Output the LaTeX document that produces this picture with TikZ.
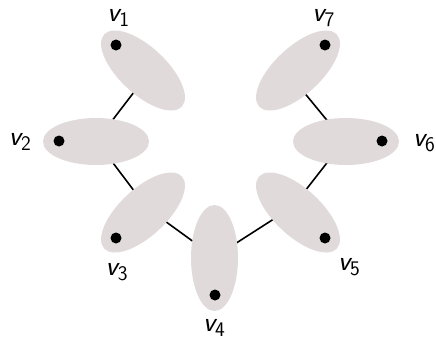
\documentclass[tikz,border=0pt]{standalone}
\usetikzlibrary{shapes.geometric}
\definecolor{ellfill}{RGB}{224,218,219}
\begin{document}
\begin{tikzpicture}[x=1pt,y=-1pt,
 ell/.style={ellipse, fill=ellfill, minimum width=106pt, minimum height=47pt, inner sep=0pt},
 vdot/.style={circle, fill=black, minimum size=11pt, inner sep=0pt},
 edge/.style={line width=1.6pt, black},
 lab/.style={anchor=base west, inner sep=0pt, font=\fontsize{28}{32}\selectfont\sffamily\slshape}]
\useasboundingbox (0,0) rectangle (436,341);
% connector anchor points
\coordinate (a1) at (147.6,74.3);
\coordinate (a2) at (96.5,141);
\coordinate (a3) at (147,208);
\coordinate (a4) at (214.5,257);
\coordinate (a5) at (292.5,207);
\coordinate (a6) at (344,141);
\coordinate (a7) at (291,76.5);
\draw[edge] (a1) -- (a2);
\draw[edge] (a2) -- (a3);
\draw[edge] (a3) -- (a4);
\draw[edge] (a4) -- (a5);
\draw[edge] (a5) -- (a6);
\draw[edge] (a6) -- (a7);
% ellipses
\node[ell, rotate=-43] (e1) at (143,70.5) {};
\node[ell] (e2) at (96,141.5) {};
\node[ell, rotate=43] (e3) at (143,212.5) {};
\node[ell, rotate=90] (e4) at (214.5,258) {};
\node[ell, rotate=-43] (e5) at (298,212.5) {};
\node[ell] (e6) at (346,141.5) {};
\node[ell, rotate=43] (e7) at (298,70.5) {};
% dots
\node[vdot] (d1) at (116,45) {};
\node[vdot] (d2) at (59,141) {};
\node[vdot] (d3) at (116,238) {};
\node[vdot] (d4) at (215,295) {};
\node[vdot] (d5) at (325,238) {};
\node[vdot] (d6) at (382,141) {};
\node[vdot] (d7) at (325,45) {};
% labels
\node[lab] (l1) at (107.2,21.7) {v$_{\mathsf{1}}$};
\node[lab] (l2) at (8.8,145.5) {v$_{\mathsf{2}}$};
\node[lab] (l3) at (105.5,275.5) {v$_{\mathsf{3}}$};
\node[lab] (l4) at (202.8,331.5) {v$_{\mathsf{4}}$};
\node[lab] (l5) at (337.8,270.5) {v$_{\mathsf{5}}$};
\node[lab] (l6) at (412.8,146.5) {v$_{\mathsf{6}}$};
\node[lab] (l7) at (312.2,21.7) {v$_{\mathsf{7}}$};
\end{tikzpicture}
\end{document}
